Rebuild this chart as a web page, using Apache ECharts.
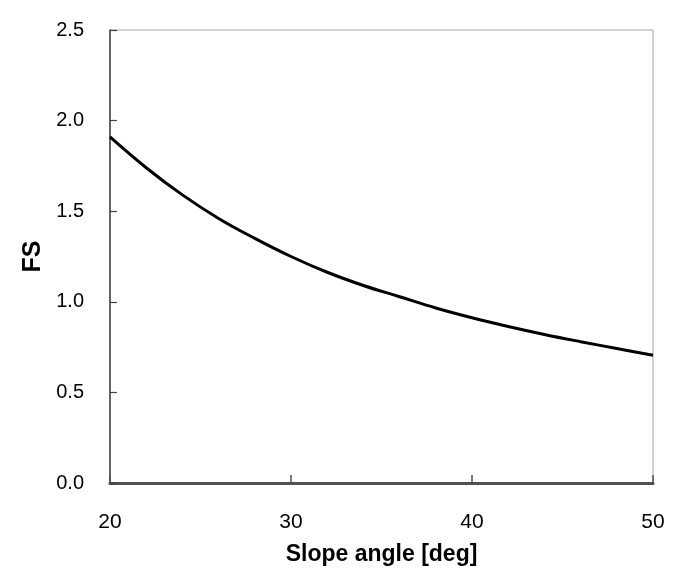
<!DOCTYPE html>
<html>
<head>
<meta charset="utf-8">
<script src="https://cdn.jsdelivr.net/npm/echarts@6/dist/echarts.min.js"></script>
<style>html,body{margin:0;padding:0;background:#fff;}#c{width:692px;height:588px;}</style>
</head>
<body>
<div id="c"></div>
<script>
const slopeAngles = [20, 22, 24, 26, 28, 30, 32, 34, 36, 38, 40, 42, 44, 46, 48, 50];
const fsValues = [1.91, 1.74, 1.59, 1.46, 1.35, 1.25, 1.163, 1.09, 1.028, 0.966, 0.912, 0.864, 0.82, 0.78, 0.742, 0.705];
const xTicks = [20, 30, 40, 50];
const yTicks = [0, 0.5, 1.0, 1.5, 2.0, 2.5];
const xTitle = 'Slope angle [deg]';
const yTitle = 'FS';

const chart = echarts.init(document.getElementById('c'), null, {renderer: 'canvas'});
const font = '"Liberation Sans", Arial, sans-serif';
chart.setOption({
  animation: false,
  grid: {left: 110, right: 39, top: 30, bottom: 105, show: true, borderColor: '#a6a6a6', borderWidth: 1, backgroundColor: '#fff'},
  xAxis: {
    type: 'value', min: 20, max: 50, interval: 10,
    name: xTitle, nameLocation: 'middle', nameGap: 60,
    nameTextStyle: {fontFamily: font, fontWeight: 'bold', fontSize: 23, color: '#000'},
    axisLine: {show: true, onZero: false, lineStyle: {color: '#505050', width: 3}},
    axisTick: {show: true, inside: true, length: 8, lineStyle: {color: '#505050', width: 1.5}},
    axisLabel: {fontFamily: font, fontSize: 21, color: '#000', margin: 29,
      formatter: v => xTicks.includes(v) ? String(v) : ''},
    splitLine: {show: false}
  },
  yAxis: {
    type: 'value', min: 0, max: 2.5, interval: 0.5,
    name: yTitle, nameLocation: 'middle', nameGap: 64, nameRotate: 90,
    nameTextStyle: {fontFamily: font, fontWeight: 'bold', fontSize: 25, color: '#000'},
    axisLine: {show: true, onZero: false, lineStyle: {color: '#404040', width: 1.5}},
    axisTick: {show: true, inside: true, length: 7, lineStyle: {color: '#404040', width: 1.2}},
    axisLabel: {fontFamily: font, fontSize: 20, color: '#000', margin: 26,
      formatter: v => yTicks.some(t => Math.abs(t - v) < 1e-9) ? v.toFixed(1) : ''},
    splitLine: {show: false}
  },
  series: [{
    type: 'line',
    data: slopeAngles.map((a, i) => [a, fsValues[i]]),
    smooth: 0.4,
    showSymbol: false,
    lineStyle: {color: '#000', width: 3},
    z: 1
  }]
});
</script>
</body>
</html>
